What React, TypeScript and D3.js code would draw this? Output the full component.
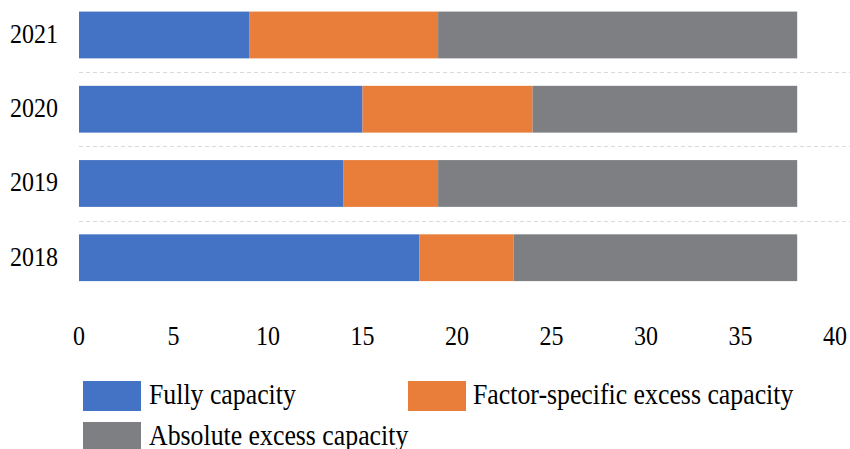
import React from "react";
import * as d3 from "d3";

// Capacity breakdown per year
const years = ["2021", "2020", "2019", "2018"];
const fullyCapacity = [9, 15, 14, 18];
const factorSpecificExcess = [10, 9, 5, 5];
const absoluteExcess = [19, 14, 19, 15];
const seriesNames = ["Fully capacity", "Factor-specific excess capacity", "Absolute excess capacity"];
const seriesColors = ["#4472C4", "#E97D3A", "#7E7F83"];
const xTicks = [0, 5, 10, 15, 20, 25, 30, 35, 40];

const W = 850;
const H = 449;
const FONT = "'Liberation Serif', 'Times New Roman', serif";
const STRETCH = 1.11;

export default function App() {
  const x = d3.scaleLinear().domain([0, 40]).range([79, 835]);
  const y = d3
    .scaleBand<string>()
    .domain(years)
    .range([-2.15, 294.85])
    .paddingInner(0.37)
    .paddingOuter(0.185);

  const rows = years.map((yr, i) => ({
    year: yr,
    "Fully capacity": fullyCapacity[i],
    "Factor-specific excess capacity": factorSpecificExcess[i],
    "Absolute excess capacity": absoluteExcess[i],
  }));
  const stacked = d3.stack<any>().keys(seriesNames)(rows);

  const bw = y.bandwidth();
  const step = y.step();

  const legendItems = [
    { name: seriesNames[0], color: seriesColors[0], sx: 83, sy: 381, tx: 149, ty: 404 },
    { name: seriesNames[1], color: seriesColors[1], sx: 408, sy: 381, tx: 473, ty: 404 },
    { name: seriesNames[2], color: seriesColors[2], sx: 83, sy: 422, tx: 149, ty: 445 },
  ];

  return (
    <svg
      width={W}
      height={H}
      style={{ position: "absolute", left: 0, top: 0, background: "#fff" }}
      fontFamily={FONT}
    >
      {/* dashed separators between categories */}
      {years.slice(1).map((yr) => {
        const yy = Math.round((y(yr) as number) - (step - bw) / 2) + 0.5;
        return (
          <line
            key={"sep" + yr}
            x1={79}
            x2={850}
            y1={yy}
            y2={yy}
            stroke="#D9D9D9"
            strokeWidth={1}
            strokeDasharray="4,3"
          />
        );
      })}

      {/* stacked bars */}
      {stacked.map((layer, li) => (
        <g key={layer.key} fill={seriesColors[li]}>
          {layer.map((d, i) => (
            <rect
              key={years[i]}
              x={x(d[0])}
              y={y(years[i])}
              width={x(d[1]) - x(d[0])}
              height={bw}
            />
          ))}
        </g>
      ))}

      {/* category labels */}
      {years.map((yr) => (
        <text
          key={"lab" + yr}
          transform={`translate(58,${(y(yr) as number) + bw / 2 + 8}) scale(1,${STRETCH})`}
          textAnchor="end"
          fontSize={24}
          fill="#000"
        >
          {yr}
        </text>
      ))}

      {/* x tick labels */}
      {xTicks.map((t) => (
        <text
          key={"tick" + t}
          transform={`translate(${x(t)},345) scale(1,${STRETCH})`}
          textAnchor="middle"
          fontSize={24}
          fill="#000"
        >
          {t}
        </text>
      ))}

      {/* legend */}
      {legendItems.map((it) => (
        <g key={it.name}>
          <rect x={it.sx} y={it.sy} width={58} height={30} fill={it.color} />
          <text
            transform={`translate(${it.tx},${it.ty}) scale(1,${STRETCH})`}
            fontSize={25.8}
            fill="#000"
          >
            {it.name}
          </text>
        </g>
      ))}
    </svg>
  );
}
